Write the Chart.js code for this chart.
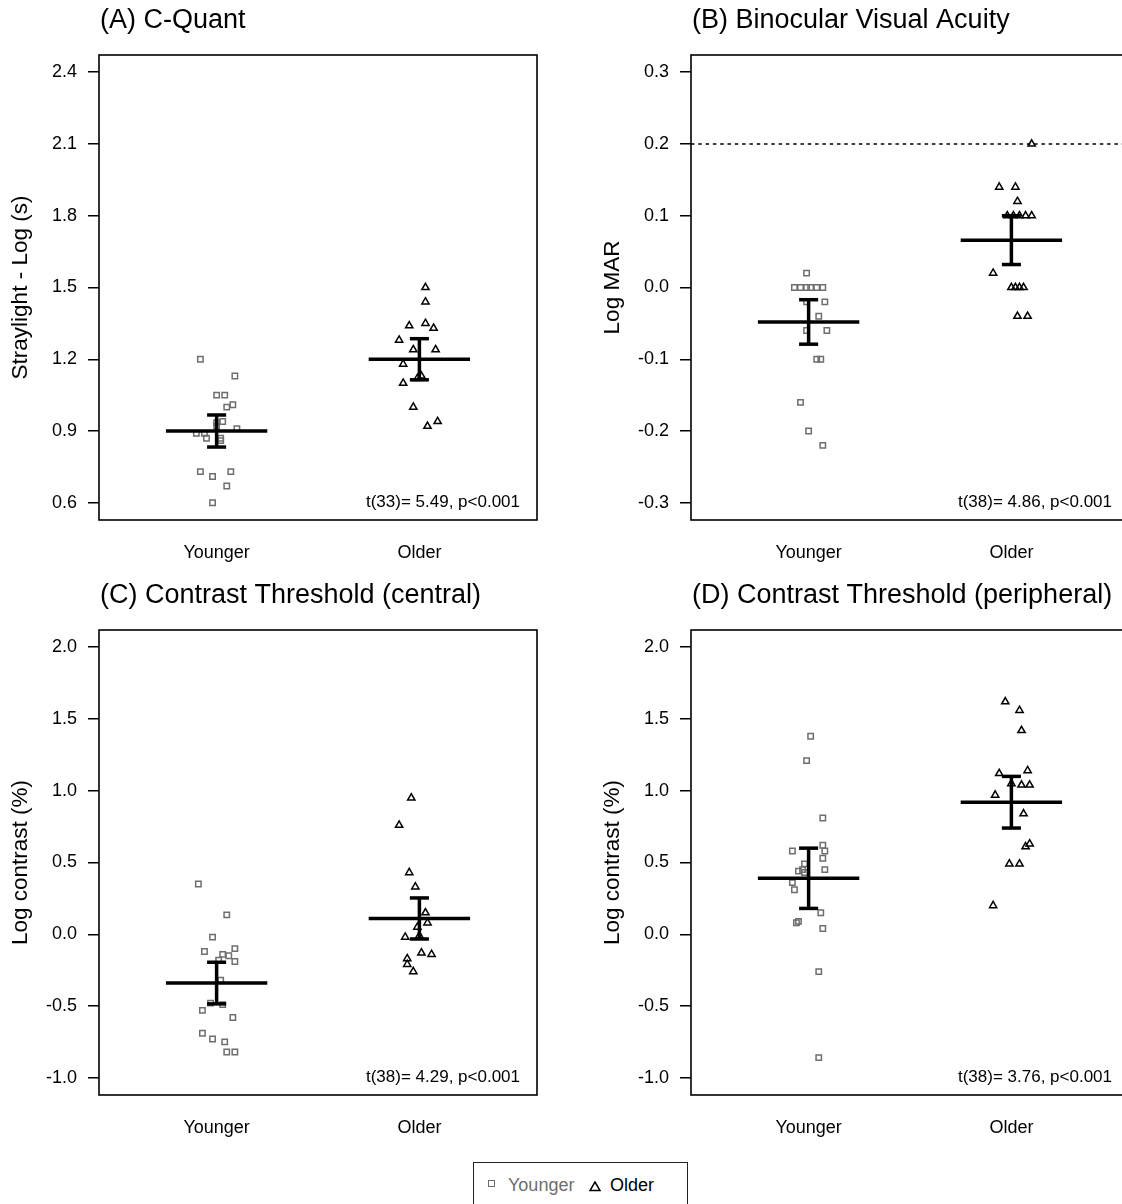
<!DOCTYPE html>
<html>
<head>
<meta charset="utf-8">
<script src="https://cdn.jsdelivr.net/npm/chart.js@4.4.0/dist/chart.umd.min.js"></script>
<style>
  body { margin: 0; background: #fff; }
  #page { position: relative; width: 1122px; height: 1204px; overflow: hidden; font-family: "Liberation Sans", Arial, sans-serif; }
  #page canvas { position: absolute; }
  #legend { position: absolute; left: 473px; top: 1162px; width: 213px; height: 60px; border: 1.5px solid #222; }
  #legend span { position: absolute; }
  .sq { left: 14px; top: 17px; width: 5px; height: 5px; border: 1.5px solid #6e6e6e; }
  .lbl { top: 11px; font-size: 18px; line-height: 22px; }
</style>
</head>
<body>
<div id="page">
  <canvas id="panelA" width="592" height="575" style="left:0;top:0"></canvas>
  <canvas id="panelB" width="592" height="575" style="left:592px;top:0"></canvas>
  <canvas id="panelC" width="592" height="575" style="left:0;top:575px"></canvas>
  <canvas id="panelD" width="592" height="575" style="left:592px;top:575px"></canvas>
  <div id="legend">
    <span class="sq"></span>
    <span class="lbl" style="left:34px;color:#6e6e6e">Younger</span>
    <span style="left:115px;top:15px"><svg width="12" height="11"><polygon points="6,1 11,9.5 1,9.5" fill="none" stroke="#000" stroke-width="1.5"/></svg></span>
    <span class="lbl" style="left:136px;color:#000">Older</span>
  </div>
</div>
<script>
const groups = ["Younger", "Older"];

// (A) C-Quant straylight
const youngerA = [1.20, 1.13, 1.05, 1.05, 1.01, 1.00, 0.94, 0.935, 0.92, 0.91, 0.89, 0.89, 0.87, 0.87, 0.86, 0.73, 0.73, 0.71, 0.67, 0.60];
const jitYoungerA = [-0.08, 0.09, 0.00, 0.04, 0.08, 0.05, 0.03, 0.00, 0.00, 0.10, -0.10, -0.06, -0.05, 0.02, 0.02, -0.08, 0.07, -0.02, 0.05, -0.02];
const olderA = [1.50, 1.44, 1.34, 1.35, 1.33, 1.28, 1.24, 1.24, 1.18, 1.13, 1.12, 1.10, 1.00, 0.92, 0.94];
const jitOlderA = [0.03, 0.03, -0.05, 0.03, 0.07, -0.10, -0.03, 0.08, -0.08, 0.01, -0.01, -0.08, -0.03, 0.04, 0.09];
const meanA = [0.90, 1.20];
const errA = [0.067, 0.086];
const ticksA = [0.6, 0.9, 1.2, 1.5, 1.8, 2.1, 2.4];

// (B) binocular visual acuity
const youngerB = [0.02, 0, 0, 0, 0, 0, 0, -0.02, -0.02, -0.04, -0.06, -0.06, -0.10, -0.10, -0.16, -0.20, -0.22];
const jitYoungerB = [-0.01, -0.07, -0.04, -0.01, 0.01, 0.04, 0.07, -0.01, 0.08, 0.05, -0.01, 0.09, 0.04, 0.06, -0.04, 0.00, 0.07];
const olderB = [0.20, 0.14, 0.14, 0.12, 0.10, 0.10, 0.10, 0.10, 0.10, 0.02, 0, 0, 0, 0, -0.04, -0.04];
const jitOlderB = [0.10, -0.06, 0.02, 0.03, -0.02, 0.01, 0.04, 0.07, 0.10, -0.09, 0.00, 0.02, 0.04, 0.06, 0.03, 0.08];
const meanB = [-0.048, 0.066];
const errB = [0.031, 0.034];
const ticksB = [-0.3, -0.2, -0.1, 0.0, 0.1, 0.2, 0.3];
const refLineB = 0.2;

// (C) contrast threshold, central
const youngerC = [0.35, 0.135, -0.02, -0.12, -0.14, -0.15, -0.10, -0.19, -0.18, -0.32, -0.48, -0.49, -0.53, -0.58, -0.69, -0.73, -0.75, -0.82, -0.82];
const jitYoungerC = [-0.09, 0.05, -0.02, -0.06, 0.03, 0.06, 0.09, 0.09, 0.01, 0.02, -0.03, 0.03, -0.07, 0.08, -0.07, -0.02, 0.04, 0.05, 0.09];
const olderC = [0.95, 0.76, 0.43, 0.33, 0.15, 0.08, 0.05, -0.01, -0.02, -0.13, -0.14, -0.17, -0.21, -0.26];
const jitOlderC = [-0.04, -0.10, -0.05, -0.02, 0.03, 0.04, -0.01, 0.00, -0.07, 0.01, 0.06, -0.06, -0.06, -0.03];
const meanC = [-0.34, 0.11];
const errC = [0.145, 0.143];

// (D) contrast threshold, peripheral
const youngerD = [1.38, 1.21, 0.81, 0.62, 0.58, 0.58, 0.53, 0.49, 0.45, 0.44, 0.43, 0.45, 0.36, 0.31, 0.15, 0.09, 0.08, 0.04, -0.26, -0.86];
const jitYoungerD = [0.01, -0.01, 0.07, 0.07, -0.08, 0.08, 0.07, -0.02, -0.03, -0.05, -0.02, 0.08, -0.08, -0.07, 0.06, -0.05, -0.06, 0.07, 0.05, 0.05];
const olderD = [1.62, 1.56, 1.42, 1.12, 1.14, 1.05, 1.04, 1.04, 0.97, 0.84, 0.63, 0.61, 0.49, 0.49, 0.20];
const jitOlderD = [-0.03, 0.04, 0.05, -0.06, 0.08, 0.00, 0.05, 0.09, -0.08, 0.06, 0.09, 0.07, -0.01, 0.04, -0.09];
const meanD = [0.39, 0.92];
const errD = [0.21, 0.18];
const ticksCD = [-1.0, -0.5, 0.0, 0.5, 1.0, 1.5, 2.0];

const FONT = '"Liberation Sans", Arial, sans-serif';
Chart.defaults.font.family = FONT;
Chart.defaults.color = "#000";

// box around the plot region, panel heading and t-test note
const panelFrame = {
  id: "panelFrame",
  afterDraw(chart, args, opts) {
    const ctx = chart.ctx;
    const a = chart.chartArea;
    ctx.save();
    ctx.strokeStyle = "#000";
    ctx.lineWidth = 1.6;
    ctx.strokeRect(a.left, a.top, a.right - a.left, a.bottom - a.top);
    ctx.fillStyle = "#000";
    ctx.textBaseline = "middle";
    ctx.textAlign = "left";
    ctx.font = "27px " + FONT;
    ctx.fillText(opts.title, a.left + 1, 21);
    ctx.textAlign = "right";
    ctx.font = "17px " + FONT;
    ctx.fillText(opts.stat, a.right - 17, a.bottom - 18);
    ctx.restore();
  }
};

function segment(x1, y1, x2, y2, width, dash) {
  return {
    data: [{x: x1, y: y1}, {x: x2, y: y2}],
    showLine: true,
    borderColor: "#000",
    borderWidth: width,
    borderDash: dash || [],
    borderCapStyle: "butt",
    pointRadius: 0,
    order: 0
  };
}

function meanBars(mean, err) {
  const out = [];
  mean.forEach((m, i) => {
    const c = i + 1;
    out.push(segment(c - 0.25, m, c + 0.25, m, 3.5));
    out.push(segment(c, m - err[i], c, m + err[i], 3.5));
    out.push(segment(c - 0.047, m + err[i], c + 0.047, m + err[i], 3.5));
    out.push(segment(c - 0.047, m - err[i], c + 0.047, m - err[i], 3.5));
  });
  return out;
}

function points(vals, jit, c, style, color, radius) {
  return {
    data: vals.map((v, i) => ({x: c + jit[i], y: v})),
    pointStyle: style,
    pointRadius: radius,
    pointBorderColor: color,
    pointBorderWidth: 1.5,
    pointBackgroundColor: "rgba(0,0,0,0)",
    order: 1
  };
}

function makePanel(id, p) {
  const datasets = [
    points(p.younger, p.jitYounger, 1, "rect", "#6e6e6e", 3.8),
    points(p.older, p.jitOlder, 2, "triangle", "#000", 4.2)
  ].concat(meanBars(p.mean, p.err));
  if (p.refLine !== undefined) {
    datasets.push(segment(0.42, p.refLine, 2.58, p.refLine, 1.5, [3.5, 3.8]));
  }
  new Chart(id, {
    type: "scatter",
    data: {datasets: datasets},
    plugins: [panelFrame],
    options: {
      responsive: false,
      animation: false,
      events: [],
      layout: {padding: {top: 55, right: 55, left: 0, bottom: 0}},
      plugins: {
        legend: {display: false},
        tooltip: {enabled: false},
        panelFrame: {title: p.title, stat: p.stat}
      },
      scales: {
        x: {
          type: "linear",
          min: 0.42,
          max: 2.58,
          afterBuildTicks: (s) => { s.ticks = [{value: 1}, {value: 2}]; },
          afterFit: (s) => { s.height = 55; },
          ticks: {
            padding: 22,
            font: {size: 18},
            callback: (v, i) => groups[i]
          },
          grid: {display: false, drawTicks: false},
          border: {display: false}
        },
        y: {
          min: p.yMin,
          max: p.yMax,
          afterBuildTicks: (s) => { s.ticks = p.ticks.map(v => ({value: v})); },
          afterFit: (s) => { s.width = 99; },
          ticks: {
            padding: 11,
            font: {size: 18},
            callback: (v) => v.toFixed(1)
          },
          grid: {
            drawOnChartArea: false,
            drawTicks: true,
            tickLength: 11,
            tickColor: "#000",
            tickWidth: 1.5,
            color: "#000",
            lineWidth: 1.5
          },
          border: {display: false},
          title: {
            display: true,
            text: p.yTitle,
            font: {size: 22.5},
            padding: {top: 7, bottom: 0}
          }
        }
      }
    }
  });
}

makePanel("panelA", {
  title: "(A) C-Quant", stat: "t(33)= 5.49, p<0.001", yTitle: "Straylight - Log (s)",
  younger: youngerA, jitYounger: jitYoungerA, older: olderA, jitOlder: jitOlderA,
  mean: meanA, err: errA, ticks: ticksA, yMin: 0.528, yMax: 2.472
});
makePanel("panelB", {
  title: "(B) Binocular Visual Acuity", stat: "t(38)= 4.86, p<0.001", yTitle: "Log MAR",
  younger: youngerB, jitYounger: jitYoungerB, older: olderB, jitOlder: jitOlderB,
  mean: meanB, err: errB, ticks: ticksB, yMin: -0.324, yMax: 0.324, refLine: refLineB
});
makePanel("panelC", {
  title: "(C) Contrast Threshold (central)", stat: "t(38)= 4.29, p<0.001", yTitle: "Log contrast (%)",
  younger: youngerC, jitYounger: jitYoungerC, older: olderC, jitOlder: jitOlderC,
  mean: meanC, err: errC, ticks: ticksCD, yMin: -1.12, yMax: 2.12
});
makePanel("panelD", {
  title: "(D) Contrast Threshold (peripheral)", stat: "t(38)= 3.76, p<0.001", yTitle: "Log contrast (%)",
  younger: youngerD, jitYounger: jitYoungerD, older: olderD, jitOlder: jitOlderD,
  mean: meanD, err: errD, ticks: ticksCD, yMin: -1.12, yMax: 2.12
});
</script>
</body>
</html>
